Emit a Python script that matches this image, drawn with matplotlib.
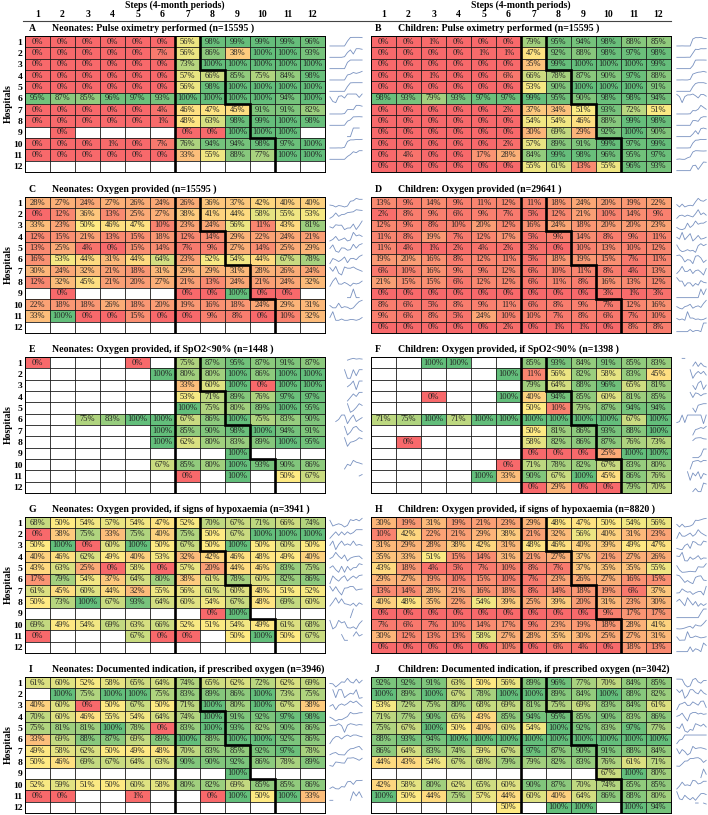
import numpy as np
import matplotlib.pyplot as plt
from matplotlib.colors import LinearSegmentedColormap
from matplotlib.lines import Line2D

plt.rcParams['font.family'] = ['Liberation Serif', 'DejaVu Serif']

N = np.nan

# values per hospital (rows 1-12) and step (columns 1-12); N = no data
neo_pulse = [
    [0, 0, 0, 0, 0, 0, 56, 98, 99, 99, 99, 96],
    [0, 0, 0, 0, 0, 7, 56, 86, 38, 100, 100, 93],
    [0, 0, 0, 0, 0, 0, 73, 100, 100, 100, 100, 100],
    [0, 0, 0, 0, 0, 0, 57, 66, 85, 75, 84, 98],
    [0, 0, 0, 0, 0, 0, 56, 98, 100, 100, 100, 100],
    [95, 87, 85, 96, 97, 93, 100, 100, 100, 100, 94, 100],
    [0, 0, 0, 0, 0, 4, 46, 47, 45, 91, 91, 82],
    [0, 0, 0, 0, 0, 1, 48, 63, 98, 99, 100, 98],
    [N, 0, N, N, N, N, 0, 0, 100, 100, 100, N],
    [0, 0, 0, 1, 0, 7, 76, 94, 94, 98, 97, 100],
    [0, 0, 0, 0, 0, 0, 33, 55, 88, 77, 100, 100],
    [N] * 12,
]
chi_pulse = [
    [0, 0, 1, 0, 0, 0, 79, 95, 94, 98, 88, 85],
    [0, 0, 0, 0, 1, 1, 47, 92, 88, 98, 97, 98],
    [0, 0, 0, 0, 0, 0, 35, 99, 100, 100, 100, 99],
    [0, 0, 1, 0, 0, 6, 66, 78, 87, 90, 97, 88],
    [0, 0, 0, 0, 0, 0, 53, 90, 100, 100, 100, 91],
    [98, 93, 79, 93, 97, 97, 99, 95, 90, 98, 98, 94],
    [0, 0, 0, 0, 0, 2, 37, 34, 51, 93, 72, 51],
    [0, 0, 0, 0, 0, 0, 54, 54, 46, 88, 99, 98],
    [0, 0, 0, 0, 0, 0, 30, 69, 29, 92, 100, 90],
    [0, 0, 0, 0, 0, 2, 57, 89, 91, 99, 97, 99],
    [0, 4, 0, 0, 17, 28, 84, 99, 98, 96, 95, 97],
    [0, 0, 0, 0, 0, 0, 55, 61, 13, 55, 96, 93],
]
neo_oxy = [
    [28, 27, 24, 27, 26, 24, 26, 36, 37, 42, 40, 40],
    [0, 12, 36, 13, 25, 27, 38, 41, 44, 58, 55, 53],
    [33, 23, 50, 46, 47, 10, 23, 24, 56, 11, 43, 81],
    [12, 15, 21, 13, 15, 18, 12, 14, 29, 22, 24, 21],
    [13, 25, 4, 0, 15, 14, 7, 9, 27, 14, 25, 29],
    [16, 53, 44, 31, 44, 64, 23, 52, 54, 44, 67, 78],
    [30, 24, 32, 21, 18, 31, 29, 29, 31, 28, 26, 24],
    [12, 32, 45, 21, 20, 27, 21, 13, 24, 21, 24, 32],
    [N, 0, N, N, N, N, 0, 0, 100, 0, 0, N],
    [22, 18, 18, 26, 18, 20, 19, 16, 18, 24, 29, 31],
    [33, 100, 0, 0, 15, 0, 0, 9, 8, 0, 10, 32],
    [N] * 12,
]
chi_oxy = [
    [13, 9, 14, 9, 11, 12, 11, 18, 24, 20, 19, 22],
    [2, 8, 9, 6, 9, 7, 5, 12, 21, 10, 14, 9],
    [12, 9, 8, 10, 20, 12, 16, 24, 18, 20, 20, 23],
    [11, 8, 19, 7, 12, 17, 5, 9, 14, 8, 9, 11],
    [11, 4, 1, 2, 4, 2, 3, 0, 10, 13, 10, 12],
    [19, 20, 16, 8, 12, 11, 5, 18, 19, 15, 7, 11],
    [6, 10, 16, 9, 9, 12, 6, 10, 11, 8, 4, 13],
    [21, 15, 15, 6, 12, 12, 6, 11, 8, 16, 13, 12],
    [0, 0, 0, 0, 0, 0, 0, 0, 0, 3, 1, 3],
    [8, 6, 5, 8, 9, 11, 6, 8, 9, 7, 12, 16],
    [9, 6, 8, 5, 24, 10, 10, 7, 8, 6, 7, 10],
    [0, 0, 0, 0, 0, 2, 0, 1, 1, 0, 8, 8],
]
neo_spo2 = [
    [0, N, N, N, 0, N, 75, 87, 95, 87, 91, 87],
    [N, N, N, N, N, 100, 80, 80, 100, 86, 100, 100],
    [N, N, N, N, N, N, 33, 60, 100, 0, 100, 100],
    [N, N, N, N, N, N, 53, 71, 89, 76, 97, 97],
    [N, N, N, N, N, N, 100, 75, 80, 89, 100, 95],
    [N, N, 75, 83, 100, 100, 67, 86, 100, 75, 83, 90],
    [N, N, N, N, N, 100, 85, 90, 98, 100, 94, 91],
    [N, N, N, N, N, 100, 62, 80, 83, 89, 100, 95],
    [N, N, N, N, N, N, N, N, 100, N, N, N],
    [N, N, N, N, N, 67, 85, 80, 100, 93, 90, 86],
    [N, N, N, N, N, N, 0, N, 100, N, 50, 67],
    [N] * 12,
]
chi_spo2 = [
    [N, N, 100, 100, N, N, 85, 93, 84, 91, 85, 83],
    [N, N, N, N, N, 100, 11, 56, 82, 58, 83, 45],
    [N, N, N, N, N, N, 79, 64, 88, 96, 65, 81],
    [N, N, 0, N, N, 100, 40, 94, 85, 60, 81, 85],
    [N, N, N, N, N, N, 50, 10, 79, 87, 94, 94],
    [71, 75, 100, 71, 100, 100, 100, 100, 100, 100, 67, 100],
    [N, N, N, N, N, N, 50, 81, 86, 93, 88, 100],
    [N, 0, N, N, N, N, 58, 82, 86, 87, 76, 73],
    [N, N, N, N, N, N, 0, 0, 0, 25, 100, 100],
    [N, N, N, N, N, 0, 71, 78, 82, 67, 83, 80],
    [N, N, N, N, 100, 33, 90, 67, 100, 45, 86, 76],
    [N, N, N, N, N, N, 0, 29, 0, 0, 79, 70],
]
neo_hypox = [
    [68, 50, 54, 57, 54, 47, 52, 70, 67, 71, 66, 74],
    [0, 38, 75, 33, 75, 40, 75, 50, 67, 100, 100, 100],
    [50, 100, 0, 60, 100, 50, 67, 50, 100, 50, 60, 50],
    [40, 46, 62, 49, 40, 53, 32, 42, 46, 48, 49, 40],
    [43, 63, 25, 0, 58, 0, 57, 20, 44, 46, 83, 75],
    [17, 79, 54, 37, 64, 80, 38, 61, 78, 60, 82, 86],
    [61, 45, 60, 44, 32, 55, 56, 61, 60, 48, 51, 52],
    [50, 73, 100, 67, 93, 64, 60, 54, 67, 48, 69, 60],
    [N, N, N, N, N, N, N, 0, 100, N, N, N],
    [69, 49, 54, 69, 63, 66, 52, 51, 54, 49, 61, 68],
    [0, N, N, N, 67, 0, 0, N, 50, 100, 50, 67],
    [N] * 12,
]
chi_hypox = [
    [30, 19, 31, 19, 21, 23, 29, 48, 47, 50, 54, 56],
    [10, 42, 22, 21, 29, 38, 21, 32, 56, 40, 31, 23],
    [31, 29, 28, 38, 42, 31, 48, 46, 40, 39, 49, 47],
    [35, 33, 51, 15, 14, 31, 21, 27, 37, 21, 27, 26],
    [43, 18, 4, 5, 7, 10, 8, 7, 37, 35, 35, 55],
    [29, 27, 19, 10, 15, 10, 7, 23, 26, 27, 16, 15],
    [13, 14, 28, 21, 16, 18, 8, 14, 18, 19, 6, 37],
    [40, 48, 35, 22, 54, 39, 25, 39, 20, 31, 23, 30],
    [0, 0, 0, 0, 0, 0, 0, 0, 0, 9, 17, 17],
    [7, 6, 7, 10, 14, 17, 9, 23, 19, 18, 28, 41],
    [30, 12, 13, 13, 58, 27, 28, 35, 30, 25, 27, 31],
    [0, 0, 0, 0, 0, 10, 0, 6, 4, 0, 18, 13],
]
neo_doc = [
    [61, 60, 52, 58, 65, 64, 74, 65, 62, 72, 62, 69],
    [N, 100, 75, 100, 100, 75, 83, 89, 86, 100, 73, 75],
    [40, 60, 0, 50, 67, 50, 71, 100, 80, 100, 67, 38],
    [70, 60, 46, 55, 54, 64, 74, 100, 91, 92, 97, 98],
    [75, 81, 81, 100, 78, 0, 83, 100, 93, 82, 90, 86],
    [33, 69, 88, 87, 69, 89, 100, 88, 100, 100, 92, 86],
    [49, 58, 62, 50, 49, 48, 70, 83, 85, 92, 97, 78],
    [50, 46, 69, 67, 64, 63, 90, 90, 92, 86, 78, 89],
    [N, N, N, N, N, N, N, N, 100, N, N, N],
    [52, 59, 51, 50, 60, 58, 80, 82, 69, 85, 85, 86],
    [0, 0, N, N, 1, N, N, 0, 100, 50, 100, 33],
    [N] * 12,
]
chi_doc = [
    [92, 92, 91, 63, 50, 56, 89, 96, 77, 70, 84, 85],
    [100, 89, 100, 67, 78, 100, 100, 89, 84, 100, 88, 82],
    [53, 72, 75, 80, 68, 69, 81, 75, 69, 83, 84, 61],
    [71, 77, 90, 65, 43, 85, 94, 95, 85, 90, 83, 86],
    [75, 67, 100, 50, 40, 60, 54, 100, 92, 83, 97, 77],
    [88, 93, 94, 100, 100, 100, 100, 100, 100, 100, 100, 100],
    [86, 64, 83, 74, 59, 67, 97, 87, 90, 91, 88, 84],
    [44, 43, 54, 67, 68, 79, 79, 82, 83, 76, 61, 71],
    [N, N, N, N, N, N, N, N, N, 67, 100, 80],
    [42, 58, 80, 62, 65, 60, 90, 87, 70, 74, 85, 85],
    [100, 50, 44, 75, 57, 44, 60, 40, 64, 86, 88, 80],
    [N, N, N, N, N, 50, N, 100, 100, N, 100, 94],
]

letters = ['A', 'B', 'C', 'D', 'E', 'F', 'G', 'H', 'I', 'J']
titles = [
    'Neonates: Pulse oximetry performed (n=15595 )',
    'Children: Pulse oximetry performed (n=15595 )',
    'Neonates: Oxygen provided (n=15595 )',
    'Children: Oxygen provided (n=29641 )',
    'Neonates: Oxygen provided, if SpO2<90% (n=1448 )',
    'Children: Oxygen provided, if SpO2<90% (n=1398 )',
    'Neonates: Oxygen provided, if signs of hypoxaemia (n=3941 )',
    'Children: Oxygen provided, if signs of hypoxaemia (n=8820 )',
    'Neonates: Documented indication, if prescribed oxygen (n=3946)',
    'Children: Documented indication, if prescribed oxygen (n=3042)',
]
panels = [neo_pulse, chi_pulse, neo_oxy, chi_oxy, neo_spo2, chi_spo2,
          neo_hypox, chi_hypox, neo_doc, chi_doc]

steps = list(range(1, 13))
hospitals = list(range(1, 13))
# first intervention step for each hospital (stepped wedge)
start_step = [8, 8, 8, 9, 9, 9, 10, 10, 10, 11, 11, 11]
training_step = 7

W, H = 708, 815
fig = plt.figure(figsize=(W / 100, H / 100), dpi=100)


def px_axes(x0, y0, w, h):
    return fig.add_axes([x0 / W, 1 - (y0 + h) / H, w / W, h / H])


cmap = LinearSegmentedColormap.from_list('rag', ['#F8696B', '#FFEB84', '#63BE7B'])
cmap.set_bad('white')

grid_left = [25, 371]
spark_left = [329, 676]
spark_w = [34, 31]
tops = [36, 197, 357, 517, 677]
gw, gh = 300, 136

for i, data in enumerate(panels):
    col = i % 2
    row = i // 2
    arr = np.array(data, dtype=float)
    ax = px_axes(grid_left[col], tops[row], gw, gh)
    ax.imshow(np.ma.masked_invalid(arr), cmap=cmap, vmin=0, vmax=100,
              extent=(0.5, 12.5, 12.5, 0.5), aspect='auto', interpolation='nearest')
    for r in range(12):
        for c in range(12):
            v = arr[r, c]
            if not np.isnan(v):
                ax.text(steps[c], hospitals[r], f'{int(v)}%', ha='center', va='center',
                        fontsize=6.1, color='#222222')
    ax.vlines(np.arange(0.5, 13, 1), 0.5, 12.5, color='#1a1a1a', lw=0.6)
    ax.hlines(np.arange(0.5, 13, 1), 0.5, 12.5, color='#1a1a1a', lw=0.6)

    # thick boundaries: training step and stepped intervention
    ax.vlines(training_step - 0.5, 0.5, 12.5, color='black', lw=1.9)
    xs, ys = [], []
    for r, s in enumerate(start_step):
        xs += [s - 0.5, s - 0.5]
        ys += [r + 0.5, r + 1.5]
    ax.plot(xs, ys, color='black', lw=1.9, solid_joinstyle='miter')

    ax.set_xlim(0.5, 12.5)
    ax.set_ylim(12.5, 0.5)
    for sp in ax.spines.values():
        sp.set_linewidth(0.7)

    if row == 0:
        ax.xaxis.set_ticks_position('top')
        ax.set_xticks(steps)
        ax.set_xticklabels([str(s) for s in steps], fontweight='bold', fontsize=6.9)
        ax.tick_params(axis='x', length=0, pad=12.5)
        fig.text((grid_left[col] + gw / 2) / W, 1 - 5 / H, 'Steps (4-month periods)',
                 ha='center', va='center', fontweight='bold', fontsize=7.0)
    else:
        ax.set_xticks([])
    if col == 0:
        ax.set_yticks(hospitals)
        ax.set_yticklabels([str(h) for h in hospitals], fontweight='bold', fontsize=6.8)
        ax.tick_params(axis='y', length=0, pad=2)
        fig.text(8 / W, 1 - (tops[row] + gh / 2) / H, 'Hospitals', rotation=90,
                 ha='center', va='center', fontweight='bold', fontsize=7.0)
    else:
        ax.set_yticks([])

    ax.text(0.012, 1.02, letters[i], transform=ax.transAxes, ha='left', va='bottom',
            fontweight='bold', fontsize=7.0)
    ax.text(0.09, 1.02, titles[i], transform=ax.transAxes, ha='left', va='bottom',
            fontweight='bold', fontsize=7.1)

    # sparklines, each row scaled to its own range
    axs = px_axes(spark_left[col], tops[row], spark_w[col], gh)
    axs.axis('off')
    for r in range(12):
        vals = arr[r]
        ok = vals[~np.isnan(vals)]
        if len(ok) == 0:
            continue
        lo, hi = ok.min(), ok.max()
        if hi > lo:
            norm = (vals - lo) / (hi - lo)
        else:
            norm = np.where(np.isnan(vals), np.nan, 0.5)
        axs.plot(steps, hospitals[r] + 0.38 - 0.76 * norm, color='#7891c0', lw=0.6)
    axs.set_xlim(0.7, 12.3)
    axs.set_ylim(12.5, 0.5)

fig.add_artist(Line2D([23 / W, 671 / W], [1 - 21 / H, 1 - 21 / H],
                      transform=fig.transFigure, color='#444444', lw=0.8))

fig.savefig('out.png', dpi=100)
